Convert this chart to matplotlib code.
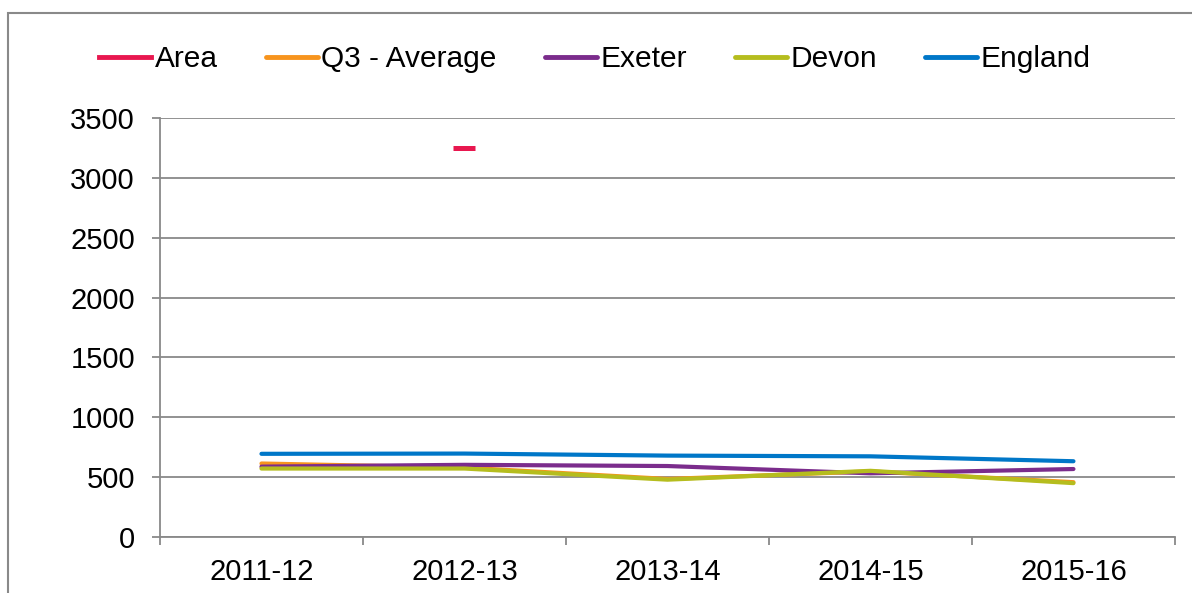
import numpy as np
import matplotlib.pyplot as plt
from matplotlib.patches import Rectangle

plt.rcParams['font.family'] = ['Liberation Sans', 'DejaVu Sans']

years = ["2011-12", "2012-13", "2013-14", "2014-15", "2015-16"]
area = [np.nan, 3250, np.nan, np.nan, np.nan]
q3_average = [614, 580, 485, 548, 458]
exeter = [588, 603, 593, 532, 568]
devon = [572, 572, 479, 553, 450]
england = [695, 697, 680, 674, 633]

series = [
    ("Area", area, "#E8174F"),
    ("Q3 - Average", q3_average, "#F7941D"),
    ("Exeter", exeter, "#7B2C8C"),
    ("Devon", devon, "#B5BD1E"),
    ("England", england, "#0077C8"),
]

grid_col = "#898989"

fig = plt.figure(figsize=(11.92, 5.93), dpi=100)
ax = fig.add_axes([0.1342, 0.0944, 0.8515, 0.7066])

# outer chart frame, cut off at right and bottom
top = 1 - 12.5 / 593
fig.patches.append(Rectangle((8 / 1192, -0.2), 1.5, top + 0.2,
                             transform=fig.transFigure, fill=False,
                             edgecolor=grid_col, linewidth=1.5))

x = np.arange(len(years))
lines = []
for name, vals, col in series:
    if name == "Area":
        ln, = ax.plot(x, vals, color=col, lw=3, marker="_",
                      markersize=16, markeredgewidth=3.6, label=name)
    else:
        ln, = ax.plot(x, vals, color=col, lw=3, solid_capstyle="round",
                      label=name)
    lines.append(ln)

ax.set_ylim(0, 3500)
ax.set_yticks(np.arange(0, 3501, 500))
ax.set_xlim(-0.5, len(years) - 0.5)
ax.set_xticks(np.arange(-0.5, len(years), 1.0))
ax.set_xticklabels([])
ax.set_xticks(x, minor=True)
ax.set_xticklabels(years, minor=True)

ax.yaxis.grid(True, color=grid_col, lw=1.3)
ax.set_axisbelow(True)
for s in ["top", "right"]:
    ax.spines[s].set_visible(False)
for s in ["left", "bottom"]:
    ax.spines[s].set_color(grid_col)
    ax.spines[s].set_linewidth(1.3)

ax.tick_params(axis="y", which="major", length=6, width=1.3, color=grid_col,
               labelsize=21, pad=12)
ax.tick_params(axis="x", which="major", length=6, width=1.3, color=grid_col,
               direction="out")
ax.tick_params(axis="x", which="minor", length=0, labelsize=21, pad=15)

leg = fig.legend(handles=lines, loc="center", bbox_to_anchor=(0.499, 0.900),
                 ncol=5, frameon=False, fontsize=21.5, handlelength=1.75,
                 handletextpad=0.1, columnspacing=1.62)
for h in leg.legend_handles:
    h.set_marker("")
    h.set_linewidth(3.5)

fig.savefig("out.png", dpi=100)
